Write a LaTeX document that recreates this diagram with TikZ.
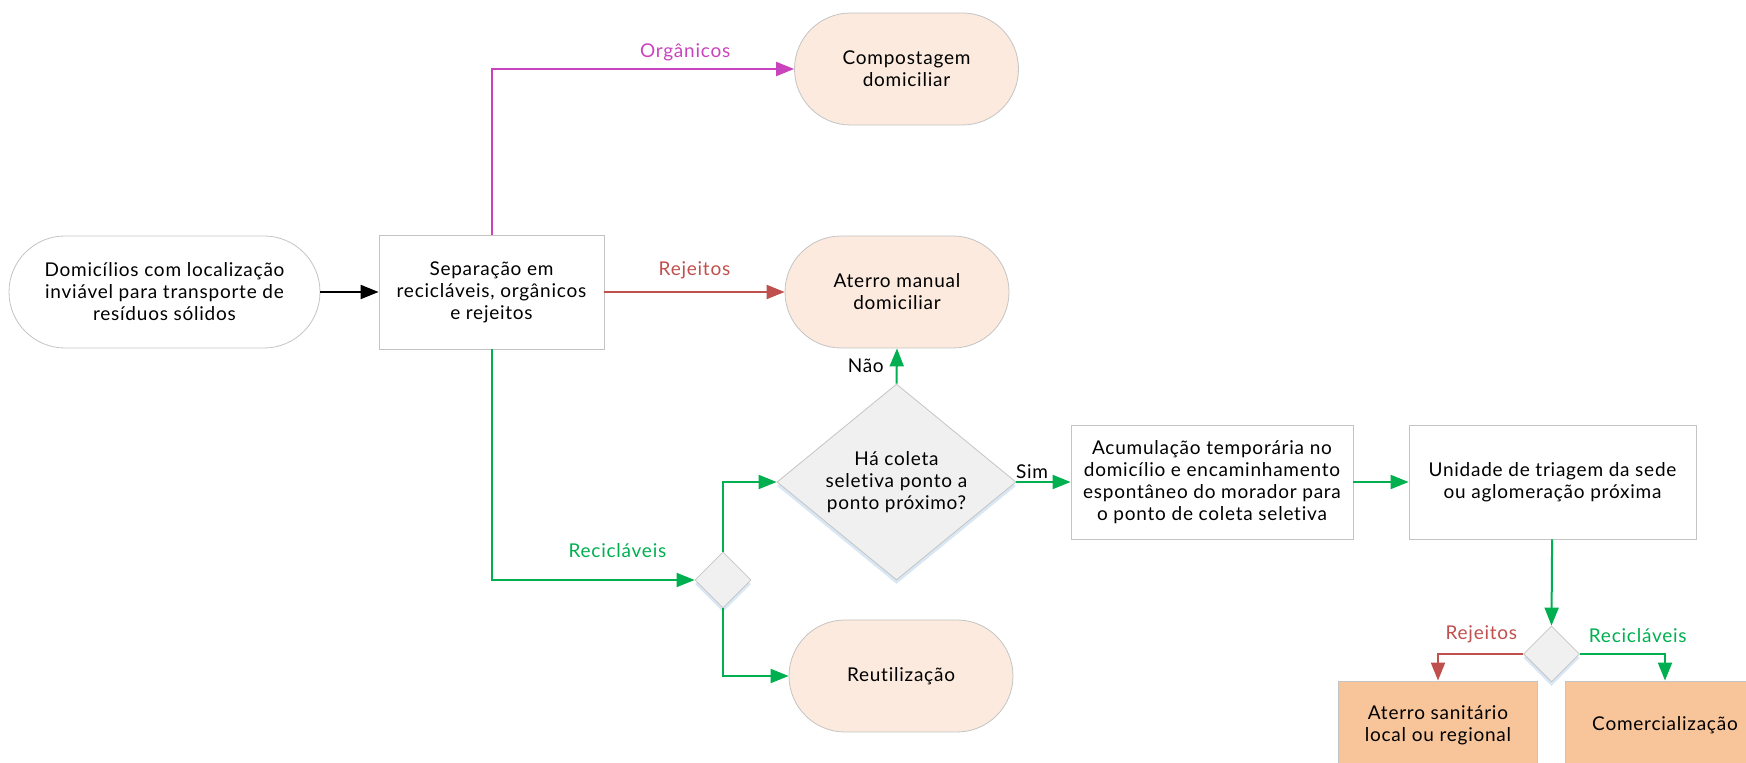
\documentclass[tikz,border=0pt]{standalone}
\usepackage{fontspec}
\setmainfont{Lato}[LetterSpace=4,Ligatures={NoCommon}]
\usetikzlibrary{shapes.geometric,arrows.meta,shadows}
\definecolor{linegray}{HTML}{C4C4C4}
\definecolor{peach}{HTML}{FBEADD}
\definecolor{orangebox}{HTML}{F8C59B}
\definecolor{decfill}{HTML}{F0F0F0}
\definecolor{shadowblue}{HTML}{C9DDF0}
\definecolor{org}{HTML}{C944BC}
\definecolor{rej}{HTML}{C0504D}
\definecolor{rec}{HTML}{00B050}
\begin{document}
\begin{tikzpicture}[x=0.5pt,y=-0.5pt,font=\fontsize{9.5}{11}\selectfont]
\tikzstyle{term}=[draw=linegray,fill=white,rounded corners=28pt,align=center,minimum height=56pt,inner sep=2pt]
\tikzstyle{dest}=[term,fill=peach,minimum width=112pt]
\tikzstyle{proc}=[draw=linegray,fill=white,align=center,minimum height=57pt,inner sep=2pt]
\tikzstyle{final}=[draw=linegray,fill=orangebox,align=center,minimum width=99.5pt,minimum height=44pt]
\tikzstyle{dec}=[diamond,draw=linegray,fill=decfill,aspect=1.2,inner sep=0pt,align=center,
  drop shadow={shadow xshift=0pt,shadow yshift=-2pt,fill=shadowblue,opacity=.7}]
\tikzstyle{arr}=[line width=1pt,-{Triangle[length=9pt,width=7pt]}]
\tikzstyle{lbl}=[inner sep=0pt,font=\fontsize{9.5}{11}\selectfont]
\useasboundingbox (0,0) rectangle (1746,763);

\node [term,minimum width=155.5pt] (start) at (164.5,292) {Domicílios com localização\\inviável para transporte de\\resíduos sólidos};
\node [proc,minimum width=112.5pt] (sep) at (491.5,292) {Separação em\\recicláveis, orgânicos\\e rejeitos};
\node [dest] (comp) at (906.5,69) {Compostagem\\domiciliar};
\node [dest] (aterro) at (897,292) {Aterro manual\\domiciliar};
\node [dec,minimum width=119.5pt,minimum height=98pt] (coleta) at (896.5,482) {Há coleta\\seletiva ponto a\\ponto próximo?};
\node [dec,minimum width=28pt,minimum height=28pt] (d1) at (723,580) {};
\node [dest] (reut) at (901,676) {Reutilização};
\node [proc,minimum width=141pt] (acum) at (1212,482) {Acumulação temporária no\\domicílio e encaminhamento\\espontâneo do morador para\\o ponto de coleta seletiva};
\node [proc,minimum width=143.5pt] (unid) at (1552.5,482) {Unidade de triagem da sede\\ou aglomeração próxima};
\node [dec,minimum width=28pt,minimum height=28pt] (d2) at (1551.5,654) {};
\node [final] (ats) at (1438,725) {Aterro sanitário\\local ou regional};
\node [final] (com) at (1665,725) {Comercialização};

\draw [arr] (start) -- (sep);
\draw [arr,org] (sep.north) |- node [lbl,above=3.5pt,pos=.82] {Orgânicos} (comp.west);
\draw [arr,rej] (sep.east) -- node [lbl,above=6pt] {Rejeitos} (aterro.west);
\draw [arr,rec] (sep.south) |- node [lbl,above=10.5pt,pos=.81] {Recicláveis} (d1.west);
\draw [arr,rec] (d1.north) |- (coleta.west);
\draw [arr,rec] (d1.south) |- (reut.west);
\draw [arr,rec] (coleta.north) -- node [lbl,left=6pt,text=black] {Não} (aterro.south);
\draw [arr,rec] (coleta.east) -- node [lbl,above=1pt,pos=.29,text=black] {Sim} (acum.west);
\draw [arr,rec] (acum) -- (unid);
\draw [arr,rec] (unid) -- (d2.north);
\draw [arr,rej] (d2.west) -| node [lbl,above=5pt,pos=.245] {Rejeitos} (ats.north);
\draw [arr,rec] (d2.east) -| node [lbl,above=5pt,pos=.34] {Recicláveis} (com.north);
\end{tikzpicture}
\end{document}
